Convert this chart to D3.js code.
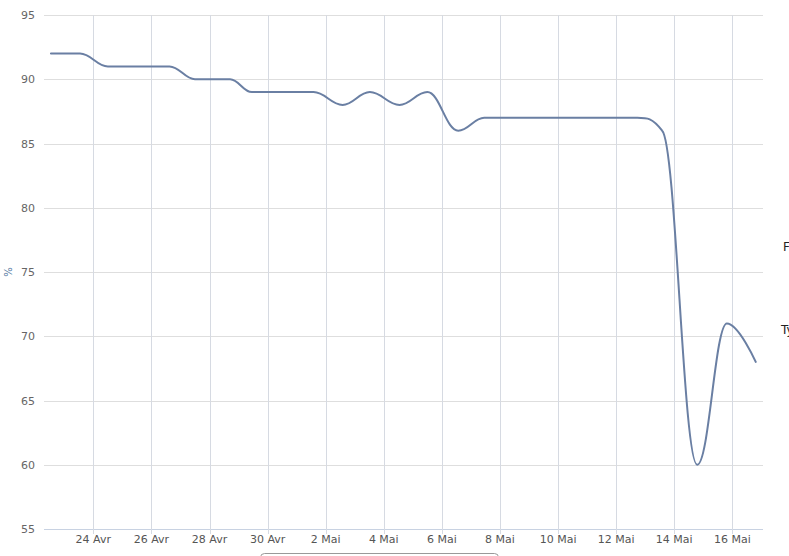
<!DOCTYPE html>
<html>
<head>
<meta charset="utf-8">
<script src="https://cdn.jsdelivr.net/npm/d3@7"></script>
<style>
  html, body { margin: 0; padding: 0; background: #fff; overflow: hidden; }
  svg { display: block; }
</style>
</head>
<body>
<svg id="chart" width="789" height="556"></svg>
<script>
// ---- data ----
const dates = [
  "2015-04-22T13:00", "2015-04-23T13:00", "2015-04-24T12:00", "2015-04-25T13:00",
  "2015-04-26T15:00", "2015-04-27T12:00", "2015-04-28T17:00", "2015-04-29T11:00",
  "2015-04-30T13:00", "2015-05-01T14:00", "2015-05-02T14:00", "2015-05-03T12:30",
  "2015-05-04T13:00", "2015-05-05T12:00", "2015-05-06T13:30", "2015-05-07T11:00",
  "2015-05-08T13:00", "2015-05-09T13:00", "2015-05-10T13:00", "2015-05-11T13:00",
  "2015-05-12T17:30", "2015-05-13T14:00", "2015-05-14T19:00", "2015-05-15T19:30",
  "2015-05-16T19:20"
];
const values = [92, 92, 91, 91, 91, 90, 90, 89, 89, 89, 88, 89, 88, 89, 86, 87,
                87, 87, 87, 87, 87, 86, 60, 71, 68];
const xTickDates = ["2015-04-24", "2015-04-26", "2015-04-28", "2015-04-30", "2015-05-02",
                    "2015-05-04", "2015-05-06", "2015-05-08", "2015-05-10", "2015-05-12",
                    "2015-05-14", "2015-05-16"];
const xTickLabels = ["24 Avr", "26 Avr", "28 Avr", "30 Avr", "2 Mai", "4 Mai", "6 Mai",
                     "8 Mai", "10 Mai", "12 Mai", "14 Mai", "16 Mai"];
const yTicks = [55, 60, 65, 70, 75, 80, 85, 90, 95];
const yTitle = "%";
const legendItems = ["F", "Ty"];
const xDomain = ["2015-04-22T07:15", "2015-05-17T01:20"];

// ---- setup ----
(function () {
const parse = d3.utcParse("%Y-%m-%dT%H:%M");
const parseDay = d3.utcParse("%Y-%m-%d");
const data = dates.map((d, i) => ({ date: parse(d), value: values[i] }));
const tickDates = xTickDates.map(parseDay);

const mLeft = 44, mRight = 763, mTop = 15, mBottom = 529;
const svg = d3.select("#chart");
const font = "'DejaVu Sans', Verdana, sans-serif";

const x = d3.scaleUtc().domain(xDomain.map(parse)).range([mLeft, mRight]);
const y = d3.scaleLinear().domain([55, 95]).range([mBottom, mTop]);

// horizontal grid
svg.append("g").selectAll("line").data(yTicks).join("line")
  .attr("x1", mLeft).attr("x2", mRight)
  .attr("y1", d => Math.round(y(d)) + 0.5).attr("y2", d => Math.round(y(d)) + 0.5)
  .attr("stroke", d => d === 55 ? "#c8d2e2" : "#dedede").attr("stroke-width", 1);

// vertical grid + ticks
svg.append("g").selectAll("line").data(tickDates).join("line")
  .attr("x1", d => Math.round(x(d)) + 0.5).attr("x2", d => Math.round(x(d)) + 0.5)
  .attr("y1", mTop).attr("y2", mBottom + 5)
  .attr("stroke", "#d6dae2").attr("stroke-width", 1);

// y labels
svg.append("g").selectAll("text").data(yTicks).join("text")
  .attr("x", 35).attr("y", d => y(d) + 4)
  .attr("text-anchor", "end")
  .attr("font-family", font).attr("font-size", 11).attr("fill", "#666")
  .text(d => d);

// x labels
svg.append("g").selectAll("text").data(tickDates).join("text")
  .attr("x", d => x(d)).attr("y", 543)
  .attr("text-anchor", "middle")
  .attr("font-family", font).attr("font-size", 11).attr("fill", "#555")
  .text((d, i) => xTickLabels[i]);

// y title
svg.append("text")
  .attr("transform", `translate(12,272) rotate(-90)`)
  .attr("text-anchor", "middle")
  .attr("font-family", font).attr("font-size", 10).attr("fill", "#4d759e")
  .text(yTitle);

// Highcharts-like spline curve
function HSpline(context) { this._context = context; }
HSpline.prototype = {
  areaStart() {}, areaEnd() {},
  lineStart() { this._pts = []; },
  point(px, py) { this._pts.push([+px, +py]); },
  lineEnd() {
    const p = this._pts, c = this._context, n = p.length, sm = 1.5, den = sm + 1;
    const rc = new Array(n).fill(null), lc = new Array(n).fill(null);
    for (let i = 1; i < n - 1; i++) {
      const [px, py] = p[i], [lx, ly] = p[i - 1], [nx, ny] = p[i + 1];
      let lcx = (sm * px + lx) / den, lcy = (sm * py + ly) / den;
      let rcx = (sm * px + nx) / den, rcy = (sm * py + ny) / den;
      let corr = 0;
      if (rcx !== lcx) corr = ((rcy - lcy) * (rcx - px)) / (rcx - lcx) + py - rcy;
      lcy += corr; rcy += corr;
      if (lcy > ly && lcy > py) { lcy = Math.max(ly, py); rcy = 2 * py - lcy; }
      else if (lcy < ly && lcy < py) { lcy = Math.min(ly, py); rcy = 2 * py - lcy; }
      if (rcy > ny && rcy > py) { rcy = Math.max(ny, py); lcy = 2 * py - rcy; }
      else if (rcy < ny && rcy < py) { rcy = Math.min(ny, py); lcy = 2 * py - rcy; }
      lc[i] = [lcx, lcy]; rc[i] = [rcx, rcy];
    }
    c.moveTo(p[0][0], p[0][1]);
    for (let i = 1; i < n; i++) {
      const a = rc[i - 1] || p[i - 1], b = lc[i] || p[i];
      c.bezierCurveTo(a[0], a[1], b[0], b[1], p[i][0], p[i][1]);
    }
  }
};
const hspline = ctx => new HSpline(ctx);

const line = d3.line().x(d => x(d.date)).y(d => y(d.value)).curve(hspline);
svg.append("path").datum(data)
  .attr("d", line)
  .attr("fill", "none").attr("stroke", "#6a7fa3").attr("stroke-width", 2)
  .attr("stroke-linejoin", "round").attr("stroke-linecap", "round");

// clipped legend items at right edge
svg.append("text").attr("x", 783).attr("y", 251)
  .attr("font-family", font).attr("font-size", 12).attr("fill", "#222").text(legendItems[0]);
svg.append("text").attr("x", 781).attr("y", 334)
  .attr("font-family", font).attr("font-size", 12).attr("fill", "#222").text(legendItems[1]);

// bottom box (partially visible)
svg.append("rect").attr("x", 260.5).attr("y", 553.5).attr("width", 238).attr("height", 20)
  .attr("rx", 4).attr("fill", "none").attr("stroke", "#999");
})();
</script>
</body>
</html>
